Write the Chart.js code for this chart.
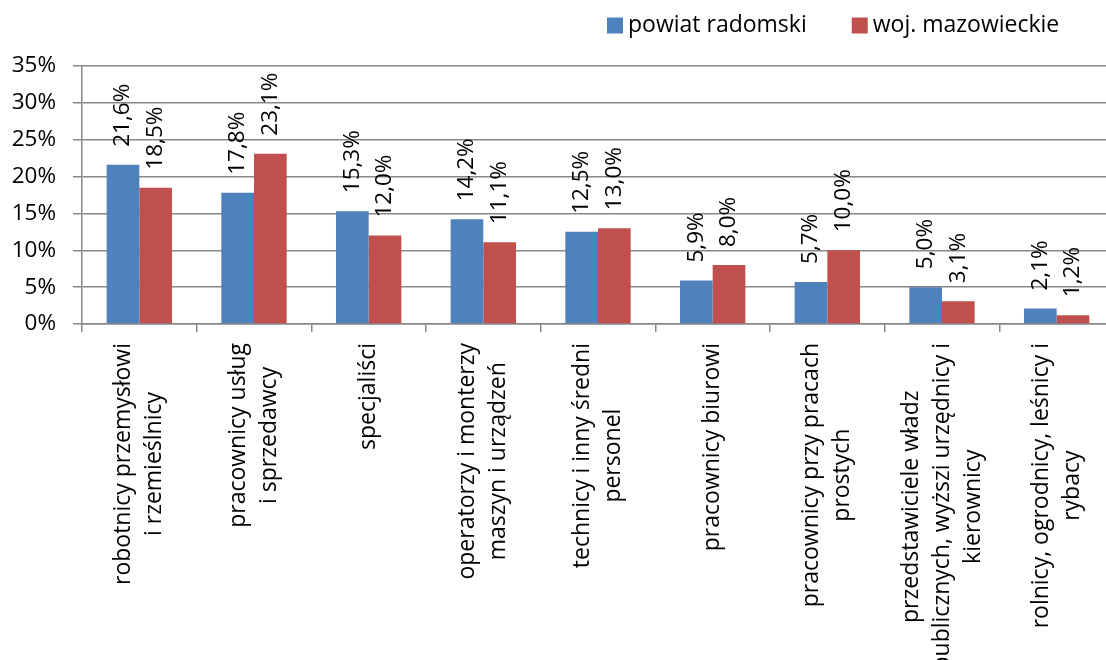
<!DOCTYPE html>
<html>
<head>
<meta charset="utf-8">
<script src="https://cdn.jsdelivr.net/npm/chart.js@4.4.1/dist/chart.umd.min.js"></script>
<style>
  html, body { margin: 0; padding: 0; background: #fff; overflow: hidden; }
  #wrap { width: 1120px; height: 660px; }
</style>
</head>
<body>
<div id="wrap"><canvas id="chart" width="1120" height="660"></canvas></div>
<script>
// ================================================
// DATA
// ================================================
const categories = [
    ['robotnicy przemysłowi', 'i rzemieślnicy'],
    ['pracownicy usług', 'i sprzedawcy'],
    ['specjaliści'],
    ['operatorzy i monterzy', 'maszyn i urządzeń'],
    ['technicy i inny średni', 'personel'],
    ['pracownicy biurowi'],
    ['pracownicy przy pracach', 'prostych'],
    ['przedstawiciele władz', 'publicznych, wyższi urzędnicy i', 'kierownicy'],
    ['rolnicy, ogrodnicy, leśnicy i', 'rybacy']
];
const powiatRadomski = [21.6, 17.8, 15.3, 14.2, 12.5, 5.9, 5.7, 5.0, 2.1];
const wojMazowieckie = [18.5, 23.1, 12.0, 11.1, 13.0, 8.0, 10.0, 3.1, 1.2];
const seriesNames = ['powiat radomski', 'woj. mazowieckie'];
const yMin = 0;
const yMax = 35;
const yStep = 5;

const FONT = "'Open Sans', 'DejaVu Sans', sans-serif";
const GRID = '#888888';
const BLUE = '#4F81BD';
const RED = '#C0504D';

Chart.defaults.font.family = FONT;
Chart.defaults.color = '#000';

function fmtPct(v) {
    return v.toFixed(1).replace('.', ',') + '%';
}

// rotated value labels above each bar
const valueLabels = {
    id: 'valueLabels',
    afterDatasetsDraw(chart) {
        const ctx = chart.ctx;
        ctx.save();
        ctx.font = `22.5px ${FONT}`;
        ctx.fillStyle = '#000';
        ctx.textAlign = 'left';
        ctx.textBaseline = 'middle';
        chart.data.datasets.forEach((ds, di) => {
            chart.getDatasetMeta(di).data.forEach((bar, i) => {
                ctx.save();
                ctx.translate(bar.x, bar.y - 18);
                ctx.rotate(-Math.PI / 2);
                ctx.fillText(fmtPct(ds.data[i]), 0, 0);
                ctx.restore();
            });
        });
        ctx.restore();
    }
};

// rotated category labels, lines centred on each other (like Excel)
const categoryLabels = {
    id: 'categoryLabels',
    afterDraw(chart) {
        const ctx = chart.ctx;
        const xs = chart.scales.x;
        const top = chart.chartArea.bottom + 19;
        const lineH = 31;
        ctx.save();
        ctx.font = `23px ${FONT}`;
        ctx.fillStyle = '#000';
        ctx.textAlign = 'center';
        ctx.textBaseline = 'middle';
        chart.data.labels.forEach((lines, i) => {
            const cx = xs.getPixelForValue(i);
            const maxW = Math.max(...lines.map(l => ctx.measureText(l).width));
            const cy = top + maxW / 2;
            lines.forEach((line, j) => {
                const lx = cx + (j - (lines.length - 1) / 2) * lineH;
                ctx.save();
                ctx.translate(lx, cy);
                ctx.rotate(-Math.PI / 2);
                ctx.fillText(line, 0, 0);
                ctx.restore();
            });
        });
        ctx.restore();
    }
};

// legend in the top right corner
const topLegend = {
    id: 'topLegend',
    afterDraw(chart) {
        const ctx = chart.ctx;
        ctx.save();
        ctx.font = `23px ${FONT}`;
        ctx.textAlign = 'left';
        ctx.textBaseline = 'middle';
        let x = 607;
        const y = 25.5;
        chart.data.datasets.forEach(ds => {
            ctx.fillStyle = ds.backgroundColor;
            ctx.fillRect(x, y - 8, 16, 16);
            ctx.fillStyle = '#000';
            ctx.fillText(ds.label, x + 21, y);
            x += 21 + ctx.measureText(ds.label).width + 45;
        });
        ctx.restore();
    }
};

new Chart(document.getElementById('chart'), {
    type: 'bar',
    data: {
        labels: categories,
        datasets: [
            { label: seriesNames[0], data: powiatRadomski, backgroundColor: BLUE },
            { label: seriesNames[1], data: wojMazowieckie, backgroundColor: RED }
        ]
    },
    options: {
        responsive: false,
        animation: false,
        devicePixelRatio: 1,
        categoryPercentage: 0.57,
        barPercentage: 1.0,
        layout: { padding: { top: 66, right: 6, bottom: 0, left: 0 } },
        plugins: {
            legend: { display: false },
            tooltip: { enabled: false }
        },
        scales: {
            x: {
                grid: {
                    display: true,
                    drawOnChartArea: false,
                    drawTicks: true,
                    tickLength: 8,
                    color: GRID,
                    lineWidth: 1.5
                },
                border: { color: GRID, width: 1.5 },
                ticks: { display: false },
                afterFit(scale) { scale.height = 336; }
            },
            y: {
                min: yMin,
                max: yMax,
                grid: {
                    color: GRID,
                    lineWidth: 1.5,
                    drawTicks: true,
                    tickLength: 9
                },
                border: { color: GRID, width: 1.5 },
                ticks: {
                    stepSize: yStep,
                    padding: 17,
                    font: { size: 22.5 },
                    color: '#000',
                    callback: v => v + '%'
                },
                afterFit(scale) { scale.width = 82; }
            }
        }
    },
    plugins: [valueLabels, categoryLabels, topLegend]
});
</script>
</body>
</html>
